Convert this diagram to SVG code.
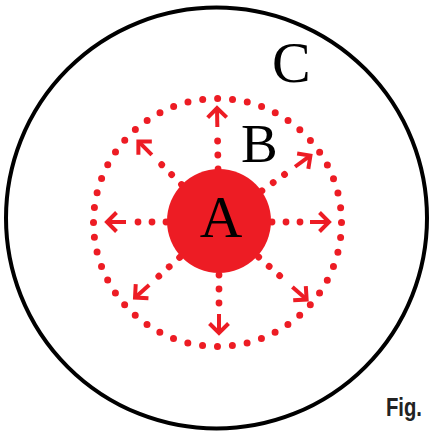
<svg xmlns="http://www.w3.org/2000/svg" width="429" height="434" viewBox="0 0 429 434">
<style>
.lbl{font-family:"Liberation Serif","Times New Roman",serif;fill:#000}
.dot{fill:#ED1C24}
.arr{stroke:#ED1C24;stroke-width:4;fill:none;stroke-linecap:butt;stroke-linejoin:miter}
</style>
<defs>
<g id="dots">
<circle class="dot" cx="53" cy="0" r="3.4"/>
<circle class="dot" cx="67" cy="0" r="3.4"/>
<circle class="dot" cx="81" cy="0" r="3.4"/>
</g>
<g id="head">
<line class="arr" x1="-19" y1="0" x2="-1" y2="0"/>
<polyline class="arr" points="-9.5,-9.5 0,0 -9.5,9.5"/>
</g>
</defs>
<rect width="429" height="434" fill="#fff"/>
<g id="C">
<circle cx="216.5" cy="218" r="210.5" fill="none" stroke="#000" stroke-width="4"/>
<text class="lbl" x="272" y="82" font-size="58">C</text>
</g>
<g id="B">
<circle cx="217.5" cy="222.5" r="124" fill="none" stroke="#ED1C24" stroke-width="7" stroke-linecap="round" stroke-dasharray="0 14.98"/>
<text class="lbl" x="241" y="162" font-size="55">B</text>
</g>
<g id="connectors">
<g transform="translate(219,222)">
<g transform="rotate(0)"><use href="#dots"/><use href="#head" transform="translate(110,0)"/></g>
<g transform="rotate(-36)"><use href="#dots"/><use href="#head" transform="translate(113,0)"/></g>
<g transform="rotate(-91)"><use href="#dots"/><use href="#head" transform="translate(114,0)"/></g>
<g transform="rotate(-135)"><use href="#dots"/><use href="#head" transform="translate(114,0)"/></g>
<g transform="rotate(180)"><use href="#dots"/><use href="#head" transform="translate(112,0)"/></g>
<g transform="rotate(138)"><use href="#dots"/><use href="#head" transform="translate(113,0)"/></g>
<g transform="rotate(90)"><use href="#dots"/><use href="#head" transform="translate(111,0)"/></g>
<g transform="rotate(41.5)"><use href="#dots"/><use href="#head" transform="translate(117,0)"/></g>
</g>
</g>
<g id="A">
<circle cx="219" cy="221" r="52" fill="#ED1C24"/>
<text class="lbl" x="221" y="237" font-size="59" text-anchor="middle">A</text>
</g>
<text x="386" y="416" font-family="'Liberation Sans Narrow','Liberation Sans',Arial,sans-serif" font-weight="bold" font-size="26" fill="#222" textLength="36" lengthAdjust="spacingAndGlyphs">Fig.</text>
</svg>
